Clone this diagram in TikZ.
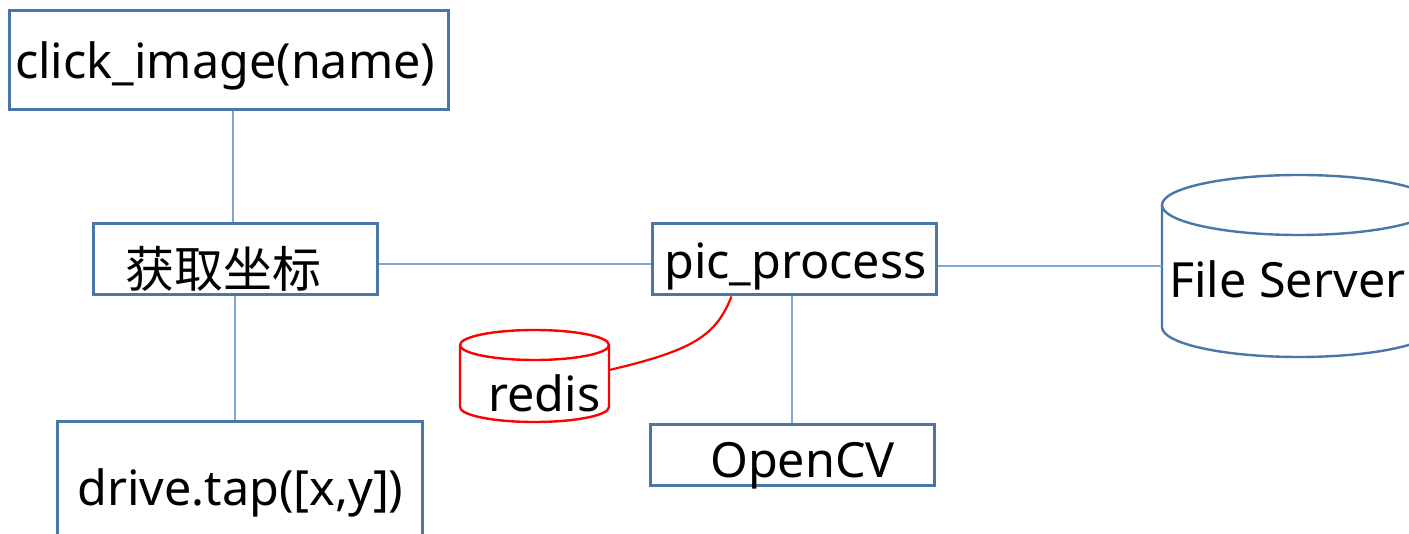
\documentclass[tikz,border=0pt]{standalone}
\usepackage{fontspec}
\setmainfont{Noto Sans}
\newfontfamily\cjk{Noto Sans CJK SC}
\usetikzlibrary{calc}
\definecolor{boxblue}{HTML}{4A76A8}
\definecolor{linkblue}{HTML}{7DA7D9}
\definecolor{redisred}{HTML}{FF0000}
\tikzset{
  boxnode/.style={draw=boxblue, line width=3pt, inner sep=0pt, fill=none},
  txt/.style={inner sep=0pt, font=\fontsize{48.5}{58}\selectfont, anchor=base west},
  cjktxt/.style={inner sep=0pt, font=\cjk\fontsize{49}{60}\selectfont, anchor=west},
  link/.style={draw=linkblue, line width=1.4pt},
  redlink/.style={draw=redisred, line width=2.2pt},
  cyl/.style={draw=boxblue, line width=2.4pt},
  redcyl/.style={draw=redisred, line width=2.4pt},
  ghost/.style={inner sep=0pt, draw=none}
}
\begin{document}
\begin{tikzpicture}[x=1pt,y=-1pt]
\useasboundingbox (0,0) rectangle (1409,534);
\fill[white] (0,0) rectangle (1409,534);

% boxes
\node[boxnode, minimum width=439pt, minimum height=99pt] (click) at (228.5,60.5) {};
\node[boxnode, minimum width=284pt, minimum height=71pt] (huoqu) at (235,259.5) {};
\node[boxnode, minimum width=365pt, minimum height=130pt] (drive) at (239.5,487) {};
\node[boxnode, minimum width=284pt, minimum height=71pt] (pic) at (794,259.5) {};
\node[boxnode, minimum width=284pt, minimum height=61pt] (opencv) at (792,455.5) {};

% cylinders (drawn shapes) with ghost nodes for connections
\draw[redcyl] (460,345) -- (460,407) arc[start angle=180, end angle=0, x radius=74.5, y radius=15] -- (609,345);
\draw[redcyl] (534.5,345) ellipse[x radius=74.5, y radius=15];
\node[ghost, minimum width=149pt, minimum height=92pt] (redis) at (534.5,373) {};

\draw[cyl] (1162,205) -- (1162,327) arc[start angle=180, end angle=0, x radius=137, y radius=30] -- (1436,205);
\draw[cyl] (1299,205) ellipse[x radius=137, y radius=30];
\node[ghost, minimum width=274pt, minimum height=182pt] (fs) at (1299,266) {};

% texts
\node[txt] (tclick) at (15,79) {click\_image(name)};
\node[cjktxt] (thuoqu) at (125,269) {获取坐标};
\node[txt] (tdrive) at (77,505) {drive.tap([x,y])};
\node[txt] (tpic) at (664,279) {pic\_process};
\node[txt] (topencv) at (710,478) {OpenCV};
\node[txt] (tredis) at (488,412) {redis};
\node[txt] (tfs) at (1169,298) {File Server};

% connectors
\draw[link] ([xshift=-2pt]huoqu.north |- click.south) -- ([xshift=-2pt]huoqu.north);
\draw[link] (huoqu.south) -- (huoqu.south |- drive.north);
\draw[link] ([yshift=-4.5pt]huoqu.east) -- ([yshift=-4.5pt]pic.west);
\draw[link] (fs.west -| pic.east) -- (fs.west);
\draw[link] ([xshift=-2pt]pic.south) -- ([xshift=-2pt]pic.south |- opencv.north);
\draw[redlink] ([yshift=3pt]redis.east) .. controls (695,350) and (716,335) .. ($(pic.south west)+(81,0)$);
\end{tikzpicture}
\end{document}
